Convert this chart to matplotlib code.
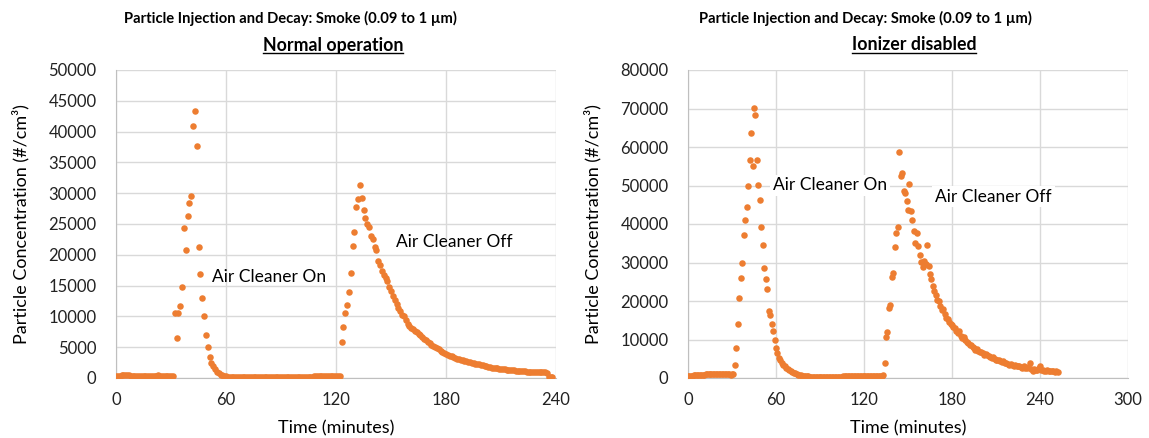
import numpy as np
import matplotlib
matplotlib.use("Agg")
import matplotlib.pyplot as plt
from matplotlib.lines import Line2D

plt.rcParams['font.family'] = ['Lato', 'DejaVu Sans']

# normal operation, one reading per minute
time_normal = np.arange(0, 239)
conc_normal = [
    350, 380, 400, 420, 450, 520, 480, 430, 400, 380,
    360, 350, 340, 330, 360, 380, 400, 370, 340, 320,
    330, 360, 390, 420, 400, 380, 350, 330, 320, 340,
    350, 330,
    10600, 6500, 10500, 11700, 14700, 24400, 20700, 26300, 28400, 29600,
    40900, 43300, 37600, 21200, 16900, 13000, 10000, 7000, 5100, 3400,
    2450, 1900, 1400, 1000, 750, 550, 420, 330, 270, 230,
    200, 180, 160, 150, 140, 130, 120, 120, 110, 110,
    100, 100, 100, 100, 90, 90, 90, 90, 90, 90,
    90, 90, 100, 100, 100, 100, 110, 110, 110, 120,
    120, 130, 130, 140, 140, 150, 160, 160, 170, 180,
    190, 200, 210, 220, 230, 240, 250, 260, 270, 280,
    290, 300, 310, 320, 330, 330, 340, 340, 350, 350,
    360,
    5800, 8300, 10600, 11800, 14000, 17100, 21500, 23700, 27700, 29000,
    31400, 29300, 27200, 25900, 25000, 24500, 23100, 22600, 21200, 20700,
    19050, 18350, 17400, 16800, 16300, 15800, 14700, 14200, 13300, 12600,
    12000, 11300, 10800, 10300, 10100, 9400, 8700, 8400, 8100, 7900,
    7600, 7400, 7200, 7000, 6700, 6400, 6150, 5900, 5650, 5400,
    5200, 5000, 4850, 4650, 4450, 4250, 4050, 3900, 3800, 3650,
    3500, 3400, 3300, 3150, 3050, 2950, 2850, 2800, 2700, 2650,
    2550, 2500, 2450, 2350, 2300, 2200, 2150, 2050, 2000, 1900,
    1850, 1800, 1700, 1650, 1600, 1550, 1500, 1450, 1420, 1380,
    1350, 1320, 1300, 1260, 1230, 1200, 1180, 1150, 1120, 1100,
    1080, 1050, 1030, 1010, 990, 970, 960, 950, 940, 930,
    920, 900, 850, 200, 150, 100,
]

# ionizer disabled
time_ionoff = np.arange(0, 253)
conc_ionoff = [
    450, 500, 550, 600, 650, 700, 700, 750, 800, 800,
    850, 900, 950, 1000, 1050, 1100, 1150, 1100, 1050, 1100,
    1150, 1100, 1050, 1100, 1000, 1050, 1100, 950, 1000, 900,
    950, 1000,
    3400, 7900, 13900, 20700, 26100, 30000, 37100, 41000, 44400, 49800,
    56700, 63700, 55100, 70200, 68200, 56700, 50200, 46300, 39100, 34600,
    28700, 25800, 23200, 17300, 16300, 13900, 12300, 10000, 7900, 6600,
    5300, 4600, 4000, 3500, 3000, 2700, 2300, 2000, 1800, 1600,
    1400, 1200, 1050, 900, 750, 650, 600, 550, 500, 450,
    400, 380, 350, 330, 320, 300, 300, 290, 280, 280,
    280, 290, 300, 300, 310, 320, 320, 330, 340, 350,
    350, 360, 370, 380, 390, 400, 400, 410, 420, 430,
    440, 450, 460, 470, 480, 490, 500, 510, 520, 530,
    540, 550, 560, 570, 580, 590, 600, 610, 620, 630,
    640, 650,
    3800, 10700, 12000, 18100, 19000, 26300, 27200, 34100, 37700, 39200,
    58800, 52500, 53200, 48600, 48000, 45900, 43700, 50400, 43400, 41100,
    38100, 35000, 37700, 34200, 32000, 30100, 28900, 30400, 29500, 34600,
    29000, 26900, 25600, 24000, 22500, 21600, 20300, 19900, 18600, 17700,
    17800, 16500, 15600, 15200, 14500, 13900, 13800, 13200, 13000, 12100,
    11800, 12200, 11000, 10400, 10600, 10000, 9400, 9100, 8700, 8500,
    8000, 7700, 7300, 7500, 6900, 6700, 6800, 6500, 6100, 6300,
    5900, 5800, 5500, 5300, 5400, 4900, 4750, 4600, 4800, 4300,
    4200, 4400, 3900, 3900, 3700, 3500, 3600, 3300, 3200, 3400,
    3000, 3100, 3000, 2800, 2700, 3000, 2600, 2500, 2900, 3900,
    2400, 1700, 2300, 2200, 2100, 2600, 3000, 2000, 2100, 1900,
    1700, 2000, 1800, 1900, 1700, 1800, 1600, 1700, 1600,
]

W, H = 1149, 438
fig = plt.figure(figsize=(W / 100, H / 100), dpi=100)

orange = '#ED7D31'
grid_c = '#D9D9D9'


def px_axes(x0, y0, x1, y1):
    return fig.add_axes([x0 / W, 1 - y1 / H, (x1 - x0) / W, (y1 - y0) / H])


def style(ax, xmax, ymax, ystep):
    ax.set_xlim(0, xmax)
    ax.set_ylim(0, ymax)
    ax.set_xticks(np.arange(0, xmax + 1, 60))
    ax.set_yticks(np.arange(0, ymax + 1, ystep))
    ax.grid(True, color=grid_c, lw=1)
    ax.set_axisbelow(True)
    for s in ['top', 'right']:
        ax.spines[s].set_visible(False)
    for s in ['left', 'bottom']:
        ax.spines[s].set_color('#BFBFBF')
    ax.tick_params(axis='y', length=0, labelsize=12, colors='#222222', pad=14)
    ax.tick_params(axis='x', length=0, labelsize=12, colors='#222222', pad=10)
    ax.set_xlabel('Time (minutes)', fontsize=13, labelpad=9)
    ax.set_ylabel('Particle Concentration (#/cm³)', fontsize=13, labelpad=14)


ax1 = px_axes(116, 70, 556, 378)
ax1.scatter(time_normal, conc_normal, s=22, color=orange, zorder=3, lw=0)
style(ax1, 240, 50000, 5000)
ax1.text(52.5, 16400, 'Air Cleaner On', fontsize=12.5, va='center')
ax1.text(153, 22100, 'Air Cleaner Off', fontsize=12.5, va='center')

ax2 = px_axes(688, 70, 1128, 378)
ax2.scatter(time_ionoff, conc_ionoff, s=22, color=orange, zorder=3, lw=0)
style(ax2, 300, 80000, 10000)
box = dict(facecolor='white', edgecolor='none', pad=2)
ax2.text(58, 50000, 'Air Cleaner On', fontsize=12.5, va='center', bbox=box, zorder=4)
ax2.text(168.5, 47100, 'Air Cleaner Off', fontsize=12.5, va='center', bbox=box, zorder=4)

title1 = 'Particle Injection and Decay: Smoke (0.09 to 1 µm)'
heads = [(290, 333, 'Normal operation'), (865, 914, 'Ionizer disabled')]
subs = []
for cx1, cx2, sub in heads:
    fig.text(cx1 / W, 1 - 18 / H, title1, ha='center', va='center',
             fontsize=10.6, fontweight='bold')
    subs.append(fig.text(cx2 / W, 1 - 45 / H, sub, ha='center', va='center',
                         fontsize=12.8, fontweight='bold'))

# underline the second title line
fig.canvas.draw()
r = fig.canvas.get_renderer()
for t in subs:
    bb = t.get_window_extent(r)
    yy = bb.y0 + 1
    fig.add_artist(Line2D([bb.x0 / W, bb.x1 / W], [yy / H, yy / H],
                          transform=fig.transFigure, color='black', lw=1))

fig.savefig('out.png', dpi=100)
